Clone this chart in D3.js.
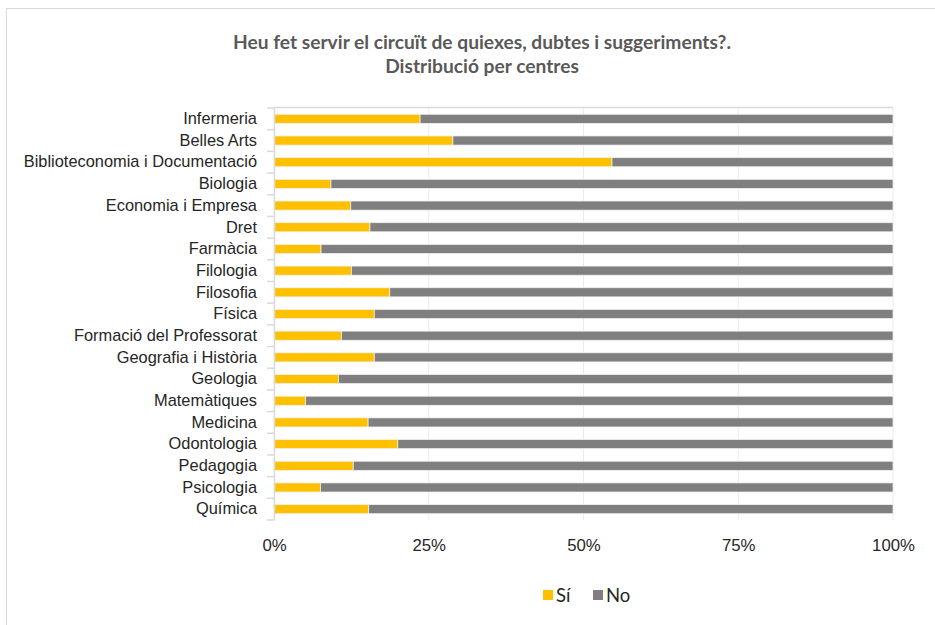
<!DOCTYPE html>
<html><head><meta charset="utf-8">
<script src="https://cdn.jsdelivr.net/npm/d3@7"></script>
<style>body{margin:0;background:#fff}svg{display:block;font-family:Lato,"Open Sans",sans-serif}</style>
</head><body><svg id="c" width="935" height="625"></svg>
<script>
const categories = ["Infermeria","Belles Arts","Biblioteconomia i Documentació","Biologia","Economia i Empresa","Dret","Farmàcia","Filologia","Filosofia","Física","Formació del Professorat","Geografia i Història","Geologia","Matemàtiques","Medicina","Odontologia","Pedagogia","Psicologia","Química"];
const si = [23.6,28.9,54.6,9.2,12.4,15.5,7.6,12.5,18.7,16.2,10.9,16.2,10.4,5.1,15.2,20.0,12.8,7.5,15.3];
const no = si.map(v => 100 - v);
const seriesNames = ["Sí","No"];
const colors = ["#FFC000","#7F7F7F"];
const tickValues = [0,25,50,75,100];

const svg = d3.select("#c");
svg.append("rect").attr("x",6.5).attr("y",8.5).attr("width",940).attr("height",640)
  .attr("fill","#fff").attr("stroke","#D9D9D9").attr("stroke-width",1);

const m = {l:274, r:893, t:108, b:520};
const x = d3.scaleLinear().domain([0,100]).range([m.l,m.r]);
const y = d3.scaleBand().domain(categories).range([m.t,m.b]).paddingInner(0.58).paddingOuter(0.29);
const yb = d3.scaleBand().domain(categories).range([m.t,m.b]);

// gridlines
svg.append("g").selectAll("line").data(tickValues.slice(1)).join("line")
  .attr("x1",d=>x(d)).attr("x2",d=>x(d)).attr("y1",m.t).attr("y2",m.b)
  .attr("stroke","#EBEBEB").attr("stroke-width",1);

// bars
const stack = categories.map((c,i)=>({c, vals:[si[i],no[i]]}));
const g = svg.append("g");
stack.forEach(d=>{
  let acc = 0;
  d.vals.forEach((v,k)=>{
    g.append("rect").attr("x",x(acc)).attr("y",y(d.c)).attr("width",x(acc+v)-x(acc)).attr("height",y.bandwidth())
      .attr("fill",colors[k]).attr("stroke","#F2F2F2").attr("stroke-width",0.75);
    acc += v;
  });
});

// top horizontal line
svg.append("line").attr("x1",m.l).attr("x2",m.r).attr("y1",m.t-0.5).attr("y2",m.t-0.5).attr("stroke","#D9D9D9").attr("stroke-width",1.5);

// y axis
const yAxis = d3.axisLeft(y).tickSize(0).tickPadding(17);
const ya = svg.append("g").attr("transform",`translate(${m.l},0)`).call(yAxis);
ya.select(".domain").attr("stroke","#D9D9D9").attr("stroke-width",1.5);
ya.selectAll("text").attr("font-size",16.4).attr("fill","#262626");
// category boundary ticks
svg.append("g").selectAll("line").data(categories.map(c=>yb(c)).concat([m.b])).join("line")
  .attr("x1",m.l-7).attr("x2",m.l).attr("y1",d=>d).attr("y2",d=>d).attr("stroke","#D9D9D9").attr("stroke-width",1.5);

// x axis labels
const xAxis = d3.axisBottom(x).tickValues(tickValues).tickFormat(d=>d+"%").tickSize(0).tickPadding(19);
const xa = svg.append("g").attr("transform",`translate(0,${m.b})`).call(xAxis);
xa.select(".domain").remove();
xa.selectAll("text").attr("font-size",16.8).attr("fill","#262626");

// title
const t = svg.append("text").attr("text-anchor","middle").attr("font-weight","bold").attr("font-size",19.2).attr("fill","#595959");
t.append("tspan").attr("x",482).attr("y",49).text("Heu fet servir el circuït de quiexes, dubtes i suggeriments?.");
t.append("tspan").attr("x",482).attr("y",73).text("Distribució per centres");

// legend
const lg = svg.append("g");
const lx = [543,593];
seriesNames.forEach((n,k)=>{
  lg.append("rect").attr("x",lx[k]).attr("y",590).attr("width",10).attr("height",10).attr("fill",colors[k]);
  lg.append("text").attr("x",lx[k]+13).attr("y",602).attr("font-size",18.5).attr("fill","#262626").text(n);
});
</script></body></html>
